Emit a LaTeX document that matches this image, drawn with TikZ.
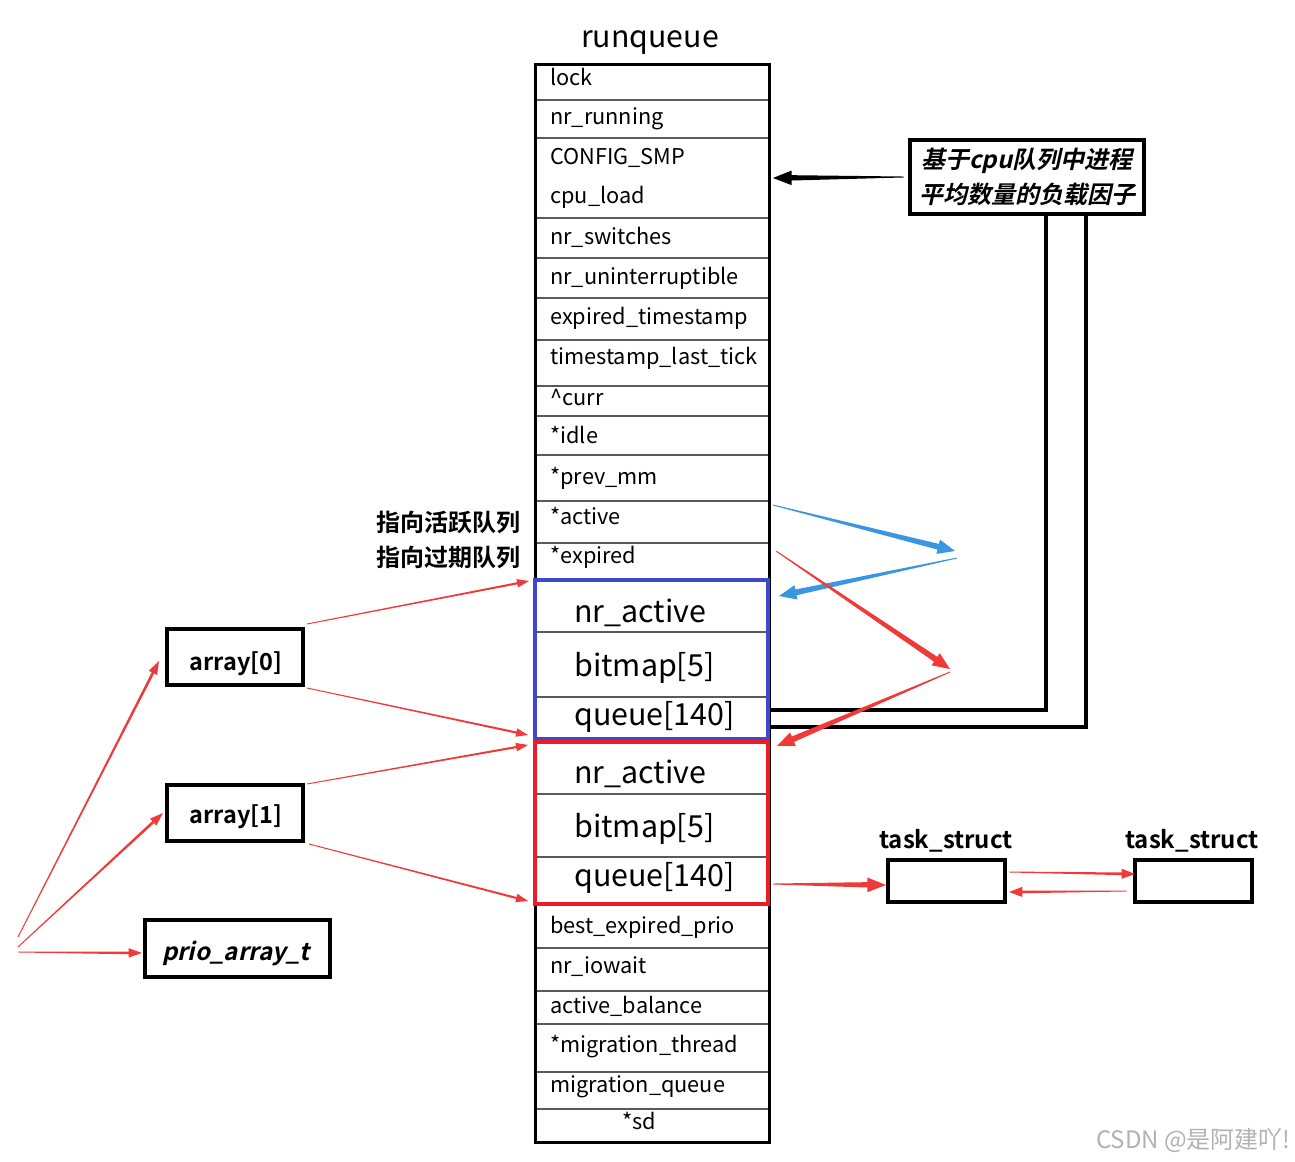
\documentclass[tikz,border=0pt]{standalone}
\usepackage{fontspec}
\setmainfont{Noto Sans CJK SC}[BoldFont={Noto Sans CJK SC Bold}, ItalicFont={Noto Sans CJK SC}, ItalicFeatures={FakeSlant=0.22}, BoldItalicFont={Noto Sans CJK SC Bold}, BoldItalicFeatures={FakeSlant=0.22}]
\usetikzlibrary{calc}
\definecolor{frameblue}{RGB}{63,72,204}
\definecolor{framered}{RGB}{237,28,36}
\definecolor{arrred}{RGB}{240,58,58}
\definecolor{arrblue}{RGB}{59,150,225}
\newcommand\fsz[1]{\fontsize{#1}{#1}\selectfont}
% tapered arrow: colour, from, to, shaft half width, head half width, head length
\newcommand\tarrow[6]{%
  \coordinate (th) at ($(#3)!#6!(#2)$);
  \fill[#1] ($(#2)!0.35pt!90:(#3)$) -- ($(th)!#4!90:(#3)$) -- ($(th)!#5!90:(#3)$) -- (#3)
     -- ($(th)!#5!-90:(#3)$) -- ($(th)!#4!-90:(#3)$) -- ($(#2)!0.35pt!-90:(#3)$) -- cycle;
}
\tikzset{
  fld/.style={anchor=base west, inner sep=0pt, font=\fsz{16.3}},
  bigfld/.style={anchor=base west, inner sep=0pt, font=\fsz{22.8}},
  sepline/.style={draw=black!65, line width=1pt},
  thickbox/.style={draw=black, line width=3pt, inner sep=0pt},
  blk/.style={draw=black, line width=3pt},
  lbl/.style={inner sep=0pt, font=\fsz{18}\bfseries},
}
\begin{document}
\begin{tikzpicture}[x=0.75pt,y=-0.75pt]
\useasboundingbox[fill=white] (0,0) rectangle (1295,1162);

% ---------- runqueue column ----------
\node[anchor=base, inner sep=0pt, font=\fsz{22.7}] (title) at (650,48) {runqueue};
\foreach \yy in {100,138,218,258,298,340,386,416,455,501,543,948,991,1024,1072,1109}
  \draw[sepline] (535,\yy) -- (769,\yy);
\draw[sepline] (535,632) -- (768,632);
\draw[sepline] (535,697) -- (768,697);
\draw[sepline] (535,794) -- (768,794);
\draw[sepline] (535,857) -- (768,857);
\draw[black, line width=2.25pt] (535,65) rectangle (769,1142);

\node[fld] (f1) at (550,86) {lock};
\node[fld] (f2) at (550,125) {nr\_running};
\node[fld] (f3) at (550,165) {CONFIG\_SMP};
\node[fld] (f4) at (550,204) {cpu\_load};
\node[fld] (f5) at (550,245) {nr\_switches};
\node[fld] (f6) at (550,285) {nr\_uninterruptible};
\node[fld] (f7) at (550,325) {expired\_timestamp};
\node[fld] (f8) at (550,364) {timestamp\_last\_tick};
\node[fld] (f9) at (550,405) {\^{}curr};
\node[fld] (f10) at (550,443) {*idle};
\node[fld] (f11) at (550,484) {*prev\_mm};
\node[fld] (f12) at (550,524) {*active};
\node[fld] (f13) at (550,563) {*expired};

\node[bigfld] (b1) at (574,622) {nr\_active};
\node[bigfld] (b2) at (574,676) {bitmap[5]};
\node[bigfld] (b3) at (574,725) {queue[140]};
\node[bigfld] (r1) at (574,783) {nr\_active};
\node[bigfld] (r2) at (574,837) {bitmap[5]};
\node[bigfld] (r3) at (574,886) {queue[140]};

\node[fld] (g1) at (550,933) {best\_expired\_prio};
\node[fld] (g2) at (550,973) {nr\_iowait};
\node[fld] (g3) at (550,1013) {active\_balance};
\node[fld] (g4) at (550,1052) {*migration\_thread};
\node[fld] (g5) at (550,1092) {migration\_queue};
\node[fld, anchor=base] (g6) at (639,1129) {*sd};

\draw[frameblue, line width=3pt] (535,580) rectangle (768,739);
\draw[framered, line width=3pt] (535,742) rectangle (768,904);

% ---------- load-factor box ----------
\node[thickbox, minimum width=175.5pt, minimum height=56pt, align=center,
      font=\fsz{18}\bfseries\itshape] (cpu) at (1027,177)
      {基于cpu队列中进程\\[6pt]平均数量的负载因子};
\coordinate (cpuarr) at (773,178);
\coordinate (q1) at (771,710);
\coordinate (q2) at (771,727);
\draw[blk] ($(cpu.south west)+(138,0)$) |- (q1);
\draw[blk] ($(cpu.south west)+(178,0)$) |- (q2);
\tarrow{black}{$(cpu.west)+(-4,0)$}{cpuarr}{2pt}{5.5pt}{14pt}

% ---------- active / expired pointers ----------
\node[lbl, anchor=base] (lact) at (448,531) {指向活跃队列};
\node[lbl, anchor=base] (lexp) at (448,566) {指向过期队列};
\coordinate (actsrc) at (773,505);
\coordinate (actturn) at (955,551);
\coordinate (actturn2) at (957,558);
\coordinate (blueend) at (779,596);
\coordinate (expsrc) at (776,551);
\coordinate (expturn) at (950,669);
\coordinate (expturn2) at (950,672);
\coordinate (redend) at (777,746);
\tarrow{arrblue}{actsrc}{actturn}{2.2pt}{5.5pt}{13pt}
\tarrow{arrblue}{actturn2}{blueend}{2.2pt}{5.5pt}{13pt}
\tarrow{arrred}{expsrc}{expturn}{2.2pt}{5.5pt}{13pt}
\tarrow{arrred}{expturn2}{redend}{2.2pt}{5.5pt}{13pt}

% ---------- prio arrays ----------
\node[thickbox, minimum width=102pt, minimum height=42pt] (a0) at (235,657) {};
\node[thickbox, minimum width=102pt, minimum height=42pt] (a1) at (235,813) {};
\node[thickbox, minimum width=139pt, minimum height=43pt] (pa) at (237.5,948.5) {};
\node[anchor=base, inner sep=0pt, font=\fsz{17.6}\bfseries] (a0t) at (236,670) {array[0]};
\node[anchor=base, inner sep=0pt, font=\fsz{17.6}\bfseries] (a1t) at (236,823) {array[1]};
\node[anchor=base, inner sep=0pt, font=\fsz{18}\bfseries\itshape] (pat) at (236,960) {prio\_array\_t};

\coordinate (blueTop) at (529,581);
\coordinate (blueBot) at (528,735);
\coordinate (redTop) at (528,745);
\coordinate (redBot) at (528,901);
\tarrow{arrred}{$(a0.north east)+(2,-3)$}{blueTop}{0.8pt}{3.2pt}{9pt}
\tarrow{arrred}{$(a0.south east)+(2,1)$}{blueBot}{0.8pt}{3.2pt}{9pt}
\tarrow{arrred}{$(a1.north east)+(2,1)$}{redTop}{0.8pt}{3.2pt}{9pt}
\tarrow{arrred}{$(a1.south east)+(4,1)$}{redBot}{0.8pt}{3.2pt}{9pt}

\coordinate (src1) at (18,937);
\coordinate (src2) at (18,947);
\coordinate (src3) at (18,952);
\coordinate (fan1) at (159,661);
\coordinate (fan2) at (163,813);
\coordinate (fan3) at (142,953);
\tarrow{arrred}{src1}{fan1}{1pt}{3.5pt}{10pt}
\tarrow{arrred}{src2}{fan2}{1pt}{3.5pt}{10pt}
\tarrow{arrred}{src3}{fan3}{1pt}{3.5pt}{10pt}

% ---------- task_struct list ----------
\node[thickbox, minimum width=88pt, minimum height=32pt] (t1) at (946.5,881) {};
\node[thickbox, minimum width=88pt, minimum height=32pt] (t2) at (1193.5,881) {};
\node[lbl, anchor=base] (t1l) at (946,848) {task\_struct};
\node[lbl, anchor=base] (t2l) at (1192,848) {task\_struct};
\coordinate (qsrc) at (773,884);
\coordinate (qdst) at (886,885);
\coordinate (n1a) at (1009,872);
\coordinate (n1b) at (1135,874);
\coordinate (n2a) at (1127,891);
\coordinate (n2b) at (1009,892);
\tarrow{arrred}{qsrc}{qdst}{2pt}{5.5pt}{14pt}
\tarrow{arrred}{n1a}{n1b}{1pt}{3.8pt}{10pt}
\tarrow{arrred}{n2a}{n2b}{1pt}{3.8pt}{10pt}

% ---------- watermark ----------
\node[anchor=base east, inner sep=0pt, font=\fsz{18}, text=black!30] (wm) at (1291,1148) {CSDN @是阿建吖!};
\end{tikzpicture}
\end{document}
